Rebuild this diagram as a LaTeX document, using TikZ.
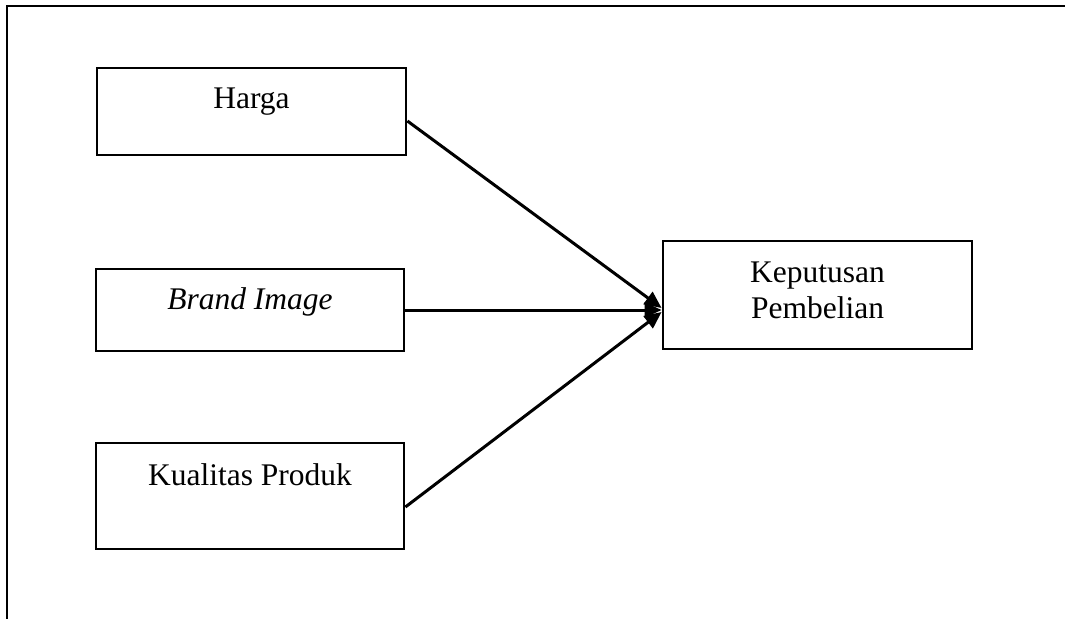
\documentclass[tikz,border=0pt]{standalone}
\usepackage{fontspec}
\setmainfont{Liberation Serif}
\usetikzlibrary{arrows.meta}
\begin{document}
\begin{tikzpicture}[x=1pt,y={(0pt,-1pt)},
  box/.style={draw, line width=2.8pt, rectangle, inner sep=0pt},
  lbl/.style={anchor=base, inner sep=0pt, font=\fontsize{31.5}{36}\selectfont},
  conn/.style={line width=3pt, -{Triangle[length=17pt,width=15pt]}}]
\useasboundingbox (0,0) rectangle (1065,619);
\draw[line width=2.8pt] (1065,6) -- (7,6) -- (7,619);
\node[box, minimum width=309pt, minimum height=87pt] (h) at (251.5,111.5) {};
\node[box, minimum width=308pt, minimum height=82pt] (b) at (250,310) {};
\node[box, minimum width=308pt, minimum height=106pt] (q) at (250,496) {};
\node[box, minimum width=309pt, minimum height=108pt] (k) at (817.5,295) {};
\node[lbl] (ht) at (251.5,108.5) {Harga};
\node[lbl] (bt) at (250,309.5) {\itshape Brand Image};
\node[lbl] (qt) at (250,485.5) {Kualitas Produk};
\node[lbl] (kt1) at (817.5,282) {Keputusan};
\node[lbl] (kt2) at (817.5,318) {Pembelian};
\draw[conn] ([yshift=-9.5pt]h.east) -- ([yshift=-13pt]k.west);
\draw[conn] ([yshift=0pt]b.east) -- ([yshift=-15pt]k.west);
\draw[conn] ([yshift=-11pt]q.east) -- ([yshift=-17pt]k.west);
\end{tikzpicture}
\end{document}
